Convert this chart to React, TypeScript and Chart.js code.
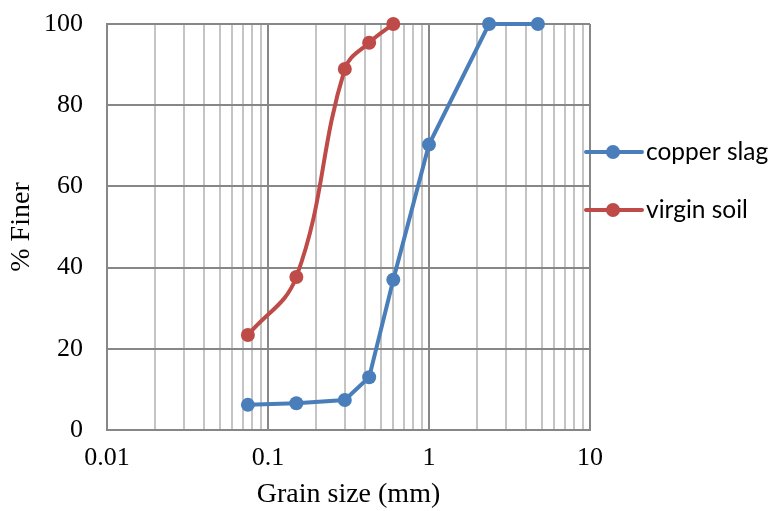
import React, { useEffect, useRef } from "react";
import { Chart, registerables } from "chart.js";

Chart.register(...registerables);

const grainSizes = [0.075, 0.15, 0.3, 0.425, 0.6, 1.0, 2.36, 4.75];
const copperSlag = [6.2, 6.6, 7.4, 13.0, 37.0, 70.3, 100, 100];
const virginSoilSizes = [0.075, 0.15, 0.3, 0.425, 0.6];
const virginSoil = [23.4, 37.7, 88.9, 95.4, 100];
const seriesNames = ["copper slag", "virgin soil"];
const seriesColors = ["#4A7EBB", "#BE4B48"];
const xTickLabels = [0.01, 0.1, 1, 10];
const yTickStep = 20;

const legendPlugin = {
  id: "excelLegend",
  afterDraw(chart: any) {
    const ctx = chart.ctx;
    const area = chart.chartArea;
    const x0 = area.right - 4;
    const ys = [152, 210];
    ctx.save();
    chart.data.datasets.forEach((ds: any, i: number) => {
      const y = ys[i];
      ctx.strokeStyle = ds.borderColor;
      ctx.lineWidth = 4;
      ctx.lineCap = "round";
      ctx.beginPath();
      ctx.moveTo(x0, y);
      ctx.lineTo(x0 + 56, y);
      ctx.stroke();
      ctx.fillStyle = ds.backgroundColor;
      ctx.beginPath();
      ctx.arc(x0 + 27, y, 7, 0, Math.PI * 2);
      ctx.fill();
      ctx.fillStyle = "#000";
      ctx.font = "24.5px Lato";
      ctx.textBaseline = "middle";
      ctx.textAlign = "left";
      ctx.fillText(ds.label, x0 + 60, y);
    });
    ctx.restore();
  },
};

export default function App() {
  const ref = useRef<HTMLCanvasElement>(null);
  useEffect(() => {
    document.body.style.margin = "0";
    const chart = new Chart(ref.current!, {
      type: "line",
      data: {
        datasets: [
          {
            label: seriesNames[0],
            data: grainSizes.map((x, i) => ({ x, y: copperSlag[i] })),
            borderColor: seriesColors[0],
            backgroundColor: seriesColors[0],
            borderWidth: 4,
            pointRadius: 7,
            pointHoverRadius: 7,
            pointBorderWidth: 0,
            tension: 0,
            clip: false as any,
          },
          {
            label: seriesNames[1],
            data: virginSoilSizes.map((x, i) => ({ x, y: virginSoil[i] })),
            borderColor: seriesColors[1],
            backgroundColor: seriesColors[1],
            borderWidth: 4,
            pointRadius: 7,
            pointHoverRadius: 7,
            pointBorderWidth: 0,
            tension: 0.4,
            clip: false as any,
          },
        ],
      },
      options: {
        responsive: false,
        animation: false,
        layout: { padding: { top: 24, right: 181, left: 0, bottom: 0 } },
        plugins: { legend: { display: false }, tooltip: { enabled: false } },
        scales: {
          x: {
            type: "logarithmic",
            min: 0.01,
            max: 10,
            afterFit: (s: any) => {
              s.height = 81;
            },
            afterBuildTicks: (s: any) => {
              const t: any[] = [];
              for (let e = -2; e <= 0; e++) {
                for (let m = 1; m <= 9; m++) t.push({ value: m * Math.pow(10, e) });
              }
              t.push({ value: 10 });
              s.ticks = t;
            },
            ticks: {
              autoSkip: false,
              maxRotation: 0,
              padding: 13,
              color: "#000",
              font: { family: "Liberation Serif", size: 26 },
              callback: (v: any) => {
                const n = Number(v);
                const hit = xTickLabels.find((p) => Math.abs(p - n) / p < 1e-6);
                return hit !== undefined ? String(hit) : "";
              },
            },
            grid: {
              drawTicks: false,
              lineWidth: 2,
              color: (c: any) => {
                const v = c.tick ? c.tick.value : 0;
                const isMajor = xTickLabels.some((p) => Math.abs(p - v) / p < 1e-6);
                return isMajor ? "#878787" : "#C4C4C4";
              },
            },
            border: { display: true, color: "#878787", width: 2 },
            title: {
              display: true,
              text: "Grain size (mm)",
              color: "#000",
              font: { family: "Liberation Serif", size: 28 },
              padding: 0,
            },
          },
          y: {
            min: 0,
            max: 100,
            afterFit: (s: any) => {
              s.width = 107;
              s.paddingTop = 0;
              s.paddingBottom = 0;
            },
            ticks: {
              stepSize: yTickStep,
              padding: 24,
              color: "#000",
              font: { family: "Liberation Serif", size: 26 },
            },
            grid: { drawTicks: false, lineWidth: 2, color: "#878787" },
            border: { display: true, color: "#878787", width: 2 },
            title: {
              display: true,
              text: "% Finer",
              color: "#000",
              font: { family: "Liberation Serif", size: 28 },
              padding: 5,
            },
          },
        },
      },
      plugins: [legendPlugin],
    });
    return () => chart.destroy();
  }, []);
  return (
    <div style={{ position: "absolute", left: 0, top: 0, width: 771, height: 511 }}>
      <canvas ref={ref} width={771} height={511} />
    </div>
  );
}
